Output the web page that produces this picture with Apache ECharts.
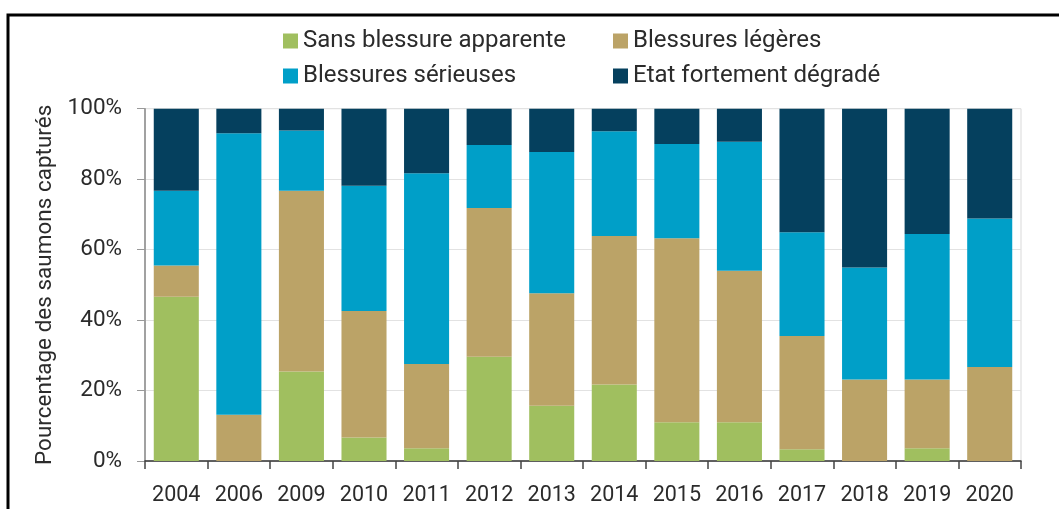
<!DOCTYPE html>
<html>
<head>
<meta charset="utf-8">
<script src="https://cdn.jsdelivr.net/npm/echarts@6/dist/echarts.min.js"></script>
<style>
  html, body { margin: 0; padding: 0; background: #fff; }
  #chart { width: 1059px; height: 509px; }
</style>
</head>
<body>
<div id="chart"></div>
<script>
// Years of capture
const years = ['2004','2006','2009','2010','2011','2012','2013','2014','2015','2016','2017','2018','2019','2020'];

// Share of captured salmon by condition (%), one value per year
const sansBlessure   = [46.6, 0,    25.4, 6.7,  3.6,  29.6, 15.7, 21.7, 11.0, 11.0, 3.3,  0,    3.6,  0];
const blessLegeres   = [8.9,  13.1, 51.3, 35.9, 23.9, 42.2, 31.9, 42.2, 52.2, 43.0, 32.2, 23.1, 19.5, 26.7];
const blessSerieuses = [21.2, 79.9, 17.1, 35.5, 54.2, 17.9, 40.1, 29.7, 26.8, 36.6, 29.4, 31.8, 41.3, 42.1];
const etatDegrade    = [23.3, 7.0,  6.2,  21.9, 18.3, 10.3, 12.3, 6.4,  10.0, 9.4,  35.1, 45.1, 35.6, 31.2];

// Value-axis tick labels
const yTicks = ['0%','20%','40%','60%','80%','100%'];

const seriesNames = ['Sans blessure apparente','Blessures légères','Blessures sérieuses','Etat fortement dégradé'];
const seriesColors = ['#a0bf5f','#bba367','#009fc8','#05405e'];
const seriesData = [sansBlessure, blessLegeres, blessSerieuses, etatDegrade];

const FONT = 'Roboto';
const TXT = '#2b2b2b';

const chart = echarts.init(document.getElementById('chart'), null, { renderer: 'canvas' });

function legendAt(name, left, top) {
  return {
    data: [name], left: left, top: top, orient: 'horizontal',
    icon: 'rect', itemWidth: 15, itemHeight: 15, itemGap: 0,
    selectedMode: false,
    textStyle: { fontFamily: FONT, fontSize: 24, color: TXT }
  };
}

chart.setOption({
  animation: false,
  backgroundColor: '#fff',
  graphic: [{
    type: 'rect', silent: true,
    shape: { x: 8, y: 15, width: 1200, height: 700 },
    style: { fill: 'none', stroke: '#000', lineWidth: 3 }
  }],
  legend: [
    legendAt(seriesNames[0], 278, 24),
    legendAt(seriesNames[1], 608, 24),
    legendAt(seriesNames[2], 278, 59),
    legendAt(seriesNames[3], 608, 59)
  ],
  grid: {
    left: 145, right: 38, top: 108.7, bottom: 48,
    show: true, borderColor: '#d9d9d9', borderWidth: 1, containLabel: false
  },
  xAxis: {
    type: 'category', data: years,
    axisLine: { lineStyle: { color: '#333', width: 1.5 } },
    axisTick: { show: true, length: 8, alignWithLabel: false, lineStyle: { color: '#444', width: 1.5 } },
    axisLabel: { fontFamily: FONT, fontSize: 21.5, color: TXT, margin: 24, interval: 0 }
  },
  yAxis: {
    type: 'value', min: 0, max: 100, interval: 20,
    name: 'Pourcentage des saumons capturés',
    nameLocation: 'middle', nameGap: 73, nameRotate: 90,
    nameTextStyle: { fontFamily: FONT, fontSize: 22.5, color: TXT },
    axisLine: { show: true, lineStyle: { color: '#888', width: 1.5 } },
    axisTick: { show: true, length: 8, lineStyle: { color: '#999' } },
    splitLine: { lineStyle: { color: '#e2e2e2', width: 1 } },
    axisLabel: {
      fontFamily: FONT, fontSize: 22.5, color: TXT, margin: 23,
      formatter: function (v) { return yTicks[Math.round(v / 20)]; }
    }
  },
  series: seriesData.map(function (d, i) {
    return {
      name: seriesNames[i], type: 'bar', stack: 'total', data: d,
      barCategoryGap: '28%',
      itemStyle: { color: seriesColors[i] }
    };
  })
});
</script>
</body>
</html>
